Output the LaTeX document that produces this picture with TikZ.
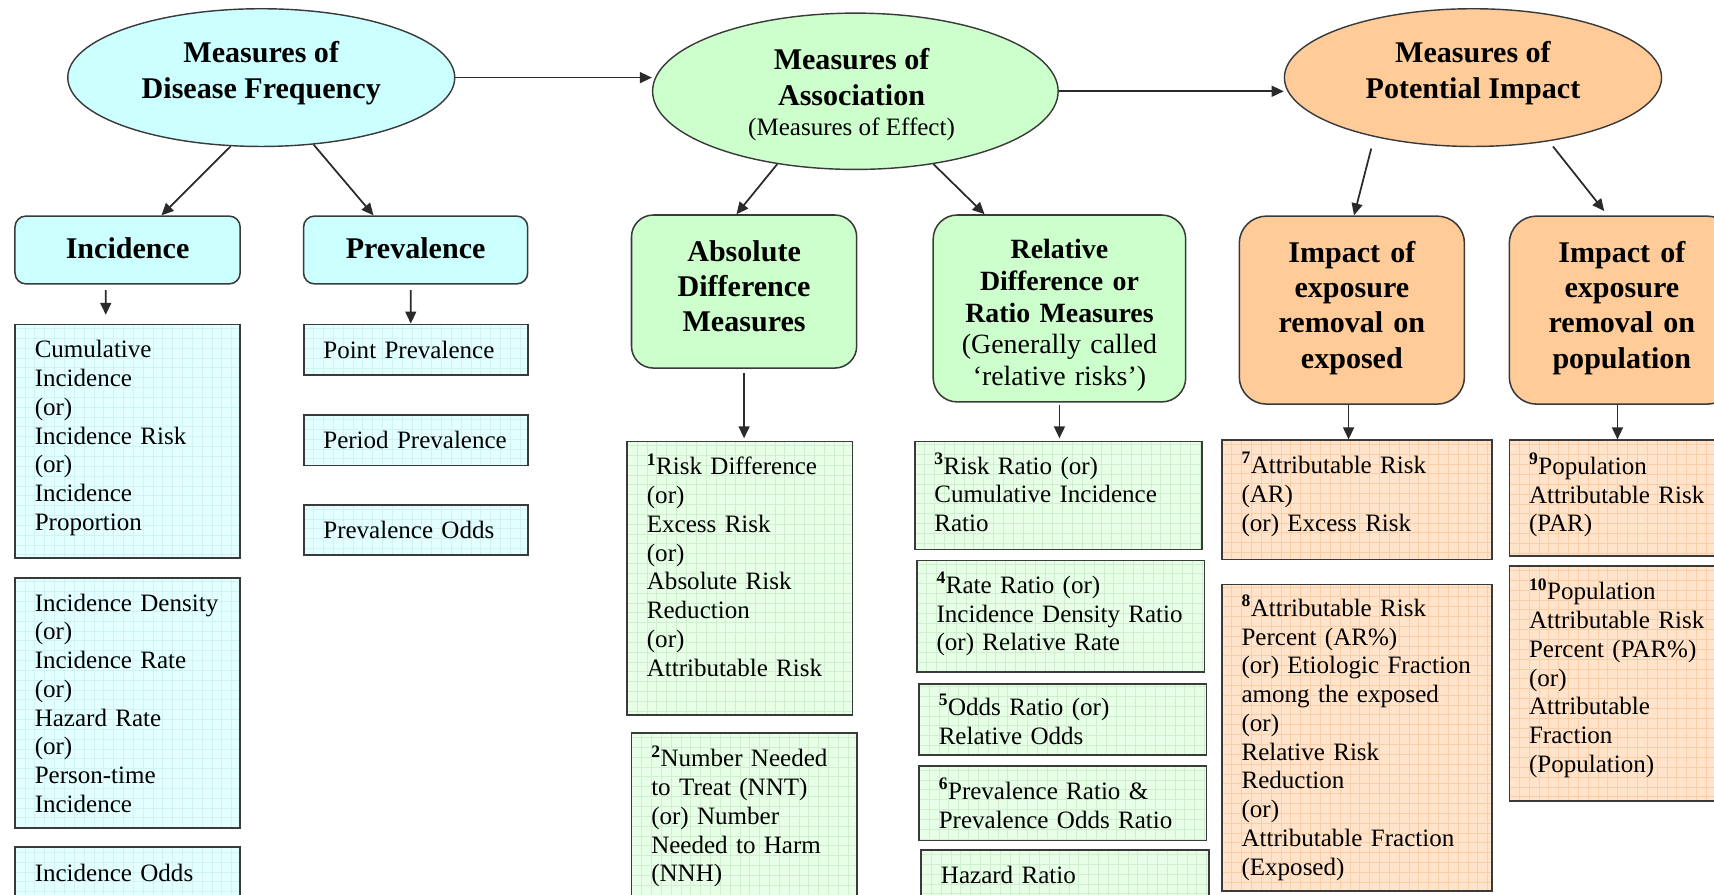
\documentclass[tikz,border=0pt]{standalone}
\usepackage{fontspec}
\setmainfont{Liberation Serif}
\usetikzlibrary{shapes.geometric,arrows.meta}

\definecolor{cyanA}{HTML}{CCFFFF}
\definecolor{cyanB}{HTML}{E4FFFF}
\definecolor{cyanL}{HTML}{CFF3F3}
\definecolor{greenA}{HTML}{CCFFCC}
\definecolor{greenB}{HTML}{E6FFE6}
\definecolor{greenL}{HTML}{CFEFCF}
\definecolor{orangeA}{HTML}{FFCC99}
\definecolor{orangeB}{HTML}{FFE3CA}
\definecolor{orangeL}{HTML}{F9CFA8}
\definecolor{edge}{HTML}{3A3A3A}
\definecolor{arrowc}{HTML}{2A2A2A}

\newcommand\txtbody{\fontsize{22.9pt}{26.3pt}\selectfont}
\newcommand\txthead{\fontsize{27.5pt}{32.3pt}\selectfont\bfseries}
\newcommand\txtrel{\fontsize{25.5pt}{29pt}\selectfont\bfseries}
\newcommand\refnum[1]{\textsuperscript{\bfseries #1}}

\begin{document}
\begin{tikzpicture}[x=1pt,y=-1pt,
  ell/.style={ellipse, draw=edge, line width=1.3pt, inner sep=0pt},
  etext/.style={font=\txthead, align=center, inner sep=0pt},
  hbox/.style={draw=edge, line width=1.4pt, rounded corners=#1, anchor=north west,
    inner sep=0pt, font=\txthead, align=center},
  gbox/.style 2 args={draw=edge, line width=1.6pt, anchor=north west,
    inner xsep=18pt, inner ysep=0pt, font=\txtbody, align=left, fill=#1,
    path picture={\draw[#2, line width=0.5pt]
      (path picture bounding box.south west) grid[step=9pt]
      (path picture bounding box.north east);}},
  arr/.style={draw=arrowc, line width=1.6pt, -{Triangle[length=11pt,width=10pt]}},
]
\useasboundingbox (0,0) rectangle (1568,818);
\clip (0,0) rectangle (1568,818);

% ---- top level: the three families of measures
\node[ell, fill=cyanA, minimum width=354pt, minimum height=126pt] (e1) at (239,71) {};
\node[ell, fill=greenA, minimum width=371pt, minimum height=143pt] (e2) at (782.5,83.5) {};
\node[ell, fill=orangeA, minimum width=345pt, minimum height=126pt] (e3) at (1347.5,71) {};
\node[etext] (e1t) at (239,67) {Measures of\\Disease Frequency};
\node[etext] (e2t) at (779,86.5) {Measures of\\Association\\[-5pt]{\txtbody\mdseries (Measures of Effect)}};
\node[etext] (e3t) at (1347.5,67) {Measures of\\Potential Impact};

% ---- second level: groups of measures
\node[hbox=10pt, fill=cyanA, text width=206pt, minimum height=62pt] (inc) at (13,197) {Incidence\par\kern3pt};
\node[hbox=10pt, fill=cyanA, text width=205pt, minimum height=62pt] (prev) at (277,197) {Prevalence\par\kern3pt};
\node[hbox=20pt, fill=greenA, text width=206pt, minimum height=140pt] (abs) at (577,196)
  {Absolute\\Difference\\Measures\par\kern10pt};
\node[hbox=22pt, fill=greenA, text width=231pt, minimum height=171pt, font=\txtrel] (rel) at (853,196)
  {Relative\\Difference or\\Ratio Measures\\\textmd{(Generally called}\\\textmd{`relative risks')}\par\kern-13pt};
\node[hbox=25pt, fill=orangeA, text width=206pt, minimum height=172pt] (ime) at (1133,197)
  {Impact of\\exposure\\removal on\\exposed\par\kern4pt};
\node[hbox=25pt, fill=orangeA, text width=206pt, minimum height=172pt] (imp) at (1380,197)
  {Impact of\\exposure\\removal on\\population\par\kern4pt};

% ---- third level: individual measures
\node[gbox={cyanB}{cyanL}, text width=170pt, minimum height=214pt] (ci) at (13,296)
  {Cumulative\\Incidence\\(or)\\Incidence Risk\\(or)\\Incidence\\Proportion\par\kern6pt};
\node[gbox={cyanB}{cyanL}, text width=170pt, minimum height=229pt] (id) at (13,528)
  {Incidence Density\\(or)\\Incidence Rate\\(or)\\Hazard Rate\\(or)\\Person-time\\Incidence};
\node[gbox={cyanB}{cyanL}, text width=170pt, minimum height=48pt] (io) at (13,774) {Incidence Odds};

\node[gbox={cyanB}{cyanL}, text width=169pt, minimum height=46pt] (pp) at (277,296) {Point Prevalence};
\node[gbox={cyanB}{cyanL}, text width=169pt, minimum height=46pt] (pd) at (277,379) {Period Prevalence};
\node[gbox={cyanB}{cyanL}, text width=169pt, minimum height=46pt] (po) at (277,461) {Prevalence Odds};

\node[gbox={greenB}{greenL}, text width=170pt, minimum height=250pt] (rd) at (573,403)
  {\refnum{1}Risk Difference\\(or)\\Excess Risk\\(or)\\Absolute Risk\\Reduction\\(or)\\Attributable Risk\par\kern24pt};
\node[gbox={greenB}{greenL}, text width=170pt, minimum height=152pt] (nnt) at (577,670)
  {\refnum{2}Number Needed\\to Treat (NNT)\\(or) Number\\Needed to Harm\\(NNH)};

\node[gbox={greenB}{greenL}, text width=227pt, minimum height=99pt] (rr) at (836,403)
  {\refnum{3}Risk Ratio (or)\\Cumulative Incidence\\Ratio\par\kern6pt};
\node[gbox={greenB}{greenL}, text width=227pt, minimum height=102pt] (rt) at (838,512)
  {\refnum{4}Rate Ratio (or)\\Incidence Density Ratio\\(or) Relative Rate\par\kern4pt};
\node[gbox={greenB}{greenL}, text width=227pt, minimum height=65pt] (odr) at (840,625)
  {\refnum{5}Odds Ratio (or)\\Relative Odds};
\node[gbox={greenB}{greenL}, text width=227pt, minimum height=68pt] (pr) at (840,700)
  {\refnum{6}Prevalence Ratio \&\\Prevalence Odds Ratio};
\node[gbox={greenB}{greenL}, text width=227pt, minimum height=46pt] (hr) at (842,777) {Hazard Ratio};

\node[gbox={orangeB}{orangeL}, text width=211pt, minimum height=109pt] (ar) at (1117,402)
  {\refnum{7}Attributable Risk\\(AR)\\(or) Excess Risk\par\kern10pt};
\node[gbox={orangeB}{orangeL}, text width=211pt, minimum height=280pt] (arp) at (1117,534)
  {\refnum{8}Attributable Risk\\Percent (AR\%)\\(or) Etiologic Fraction\\among the exposed\\(or)\\Relative Risk\\Reduction\\(or)\\Attributable Fraction\\(Exposed)};
\node[gbox={orangeB}{orangeL}, text width=211pt, minimum height=106pt] (par) at (1380,402)
  {\refnum{9}Population\\Attributable Risk\\(PAR)\par\kern6pt};
\node[gbox={orangeB}{orangeL}, text width=211pt, minimum height=215pt] (parp) at (1380,517)
  {\refnum{10}Population\\Attributable Risk\\Percent (PAR\%)\\(or)\\Attributable\\Fraction\\(Population)\par\kern10pt};

% ---- connectors between the top-level families
\draw[arr] (e1.east) -- (e1.east -| e2.west);
\draw[arr] (e2.east) -- (e2.east -| e3.west);

% ---- families to groups
\draw[arr] (e1.246.5) -- ([xshift=31pt]inc.north);
\draw[arr] (e1.308.4) -- ([xshift=-38.5pt]prev.north);
\draw[arr] (e2.223.65) -- ([xshift=-7pt]abs.north);
\draw[arr] (e2.317.8) -- ([xshift=-68.5pt]rel.north);
\draw[arr, shorten <=11pt] (e3.211.5) -- ([xshift=2pt]ime.north);
\draw[arr, shorten <=6pt, shorten >=5pt] (e3.320.1) -- ([xshift=-13pt]imp.north);

% ---- groups to their measures
\draw[arr, shorten <=5pt, shorten >=8pt] ([xshift=-20pt]inc.south) -- ([xshift=-20pt]ci.north);
\draw[arr, shorten <=5pt] ([xshift=-4.5pt]prev.south) -- ([xshift=-4.5pt]pp.north);
\draw[arr, shorten <=4pt, shorten >=2pt] (abs.south) -- (abs.south |- rd.north);
\draw[arr, shorten <=2pt, shorten >=2pt] (rel.south) -- (rel.south |- rr.north);
\draw[arr] ([xshift=-3pt]ime.south) -- ([xshift=-3pt]ime.south |- ar.north);
\draw[arr] ([xshift=-4pt]imp.south) -- ([xshift=-4pt]imp.south |- par.north);
\end{tikzpicture}
\end{document}
